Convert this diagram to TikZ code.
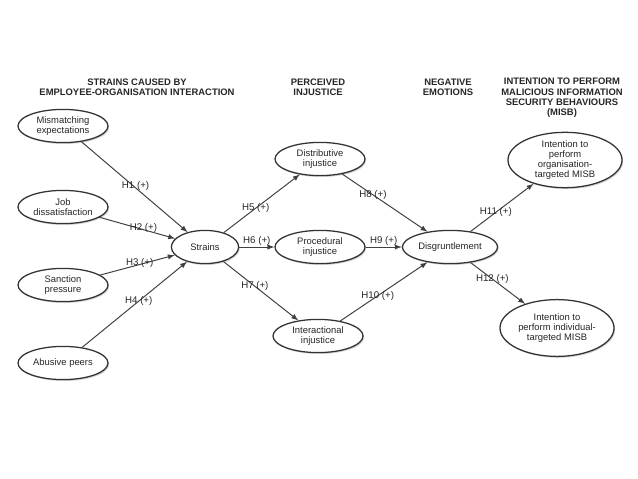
\documentclass[tikz,border=0pt]{standalone}
\usepackage{fontspec}
\setmainfont{Liberation Sans}
\usetikzlibrary{shapes.geometric, shadows}

\tikzset{
  construct/.style={ellipse, draw=black!80, line width=0.9pt, fill=white,
    align=center, inner sep=0pt, minimum width=2.25cm, minimum height=0.83cm,
    font=\fontsize{6.7}{7.2}\selectfont, text=black!85,
    drop shadow={shadow xshift=0.8pt, shadow yshift=-1pt, opacity=0.35}},
  heading/.style={align=center, font=\fontsize{6.7}{7.4}\selectfont\bfseries, text=black!85},
  hypline/.style={draw=black!75, line width=0.7pt, -latex},
  hyp/.style={font=\fontsize{6.9}{7}\selectfont, inner sep=0.5pt, text=black!85},
}

\begin{document}
\begin{tikzpicture}[x=0.025cm, y=-0.025cm]
  \useasboundingbox (0,0) rectangle (638,479);

  % Column headings
  \node[heading] (hstrain) at (137, 87) {STRAINS CAUSED BY\\EMPLOYEE-ORGANISATION INTERACTION};
  \node[heading] (hinjust) at (318, 87) {PERCEIVED\\INJUSTICE};
  \node[heading] (hemot)   at (448, 87) {NEGATIVE\\EMOTIONS};
  \node[heading] (hmisb)   at (562, 98) {INTENTION TO PERFORM\\MALICIOUS INFORMATION\\SECURITY BEHAVIOURS\\(MISB)};

  % Strains
  \node[construct] (mis) at (63, 126) {Mismatching\\expectations};
  \node[construct] (job) at (63, 207) {Job\\dissatisfaction};
  \node[construct] (san) at (63, 285) {Sanction\\pressure};
  \node[construct] (abu) at (63, 363) {Abusive peers};
  \node[construct, minimum width=1.68cm] (str) at (205, 247) {Strains};

  % Injustice
  \node[construct] (dis) at (320, 159) {Distributive\\injustice};
  \node[construct] (pro) at (320, 247) {Procedural\\injustice};
  \node[construct] (int) at (318, 336) {Interactional\\injustice};

  % Emotions
  \node[construct, minimum width=2.38cm] (dgr) at (450, 247) {Disgruntlement};

  % MISB
  \node[construct, minimum width=2.85cm, minimum height=1.35cm] (org) at (565, 160)
    {Intention to\\perform\\organisation-\\targeted MISB};
  \node[construct, minimum width=2.85cm, minimum height=1.42cm] (ind) at (557, 328)
    {Intention to\\perform individual-\\targeted MISB};

  % Hypotheses
  \draw[hypline] (mis) -- node[hyp, pos=0.51, yshift=1pt] (h1) {H1 (+)} (str);
  \draw[hypline] (job) -- node[hyp, pos=0.58, yshift=1pt] (h2) {H2 (+)} (str);
  \draw[hypline] (san) -- node[hyp, pos=0.53, yshift=1pt] (h3) {H3 (+)} (str);
  \draw[hypline] (abu) -- node[hyp, pos=0.54] (h4) {H4 (+)} (str);
  \draw[hypline] (str) -- node[hyp, pos=0.42] (h5) {H5 (+)} (dis);
  \draw[hypline] (str) -- node[hyp, pos=0.5, above] (h6) {H6 (+)} (pro);
  \draw[hypline] (str) -- node[hyp, pos=0.42] (h7) {H7 (+)} (int);
  \draw[hypline] (dis) -- node[hyp, pos=0.36] (h8) {H8 (+)} (dgr);
  \draw[hypline] (pro) -- node[hyp, pos=0.5, above] (h9) {H9 (+)} (dgr);
  \draw[hypline] (int) -- node[hyp, pos=0.43] (h10) {H10 (+)} (dgr);
  \draw[hypline] (dgr) -- node[hyp, pos=0.4] (h11) {H11 (+)} (org);
  \draw[hypline] (dgr) -- node[hyp, pos=0.4] (h12) {H12 (+)} (ind);
\end{tikzpicture}
\end{document}
